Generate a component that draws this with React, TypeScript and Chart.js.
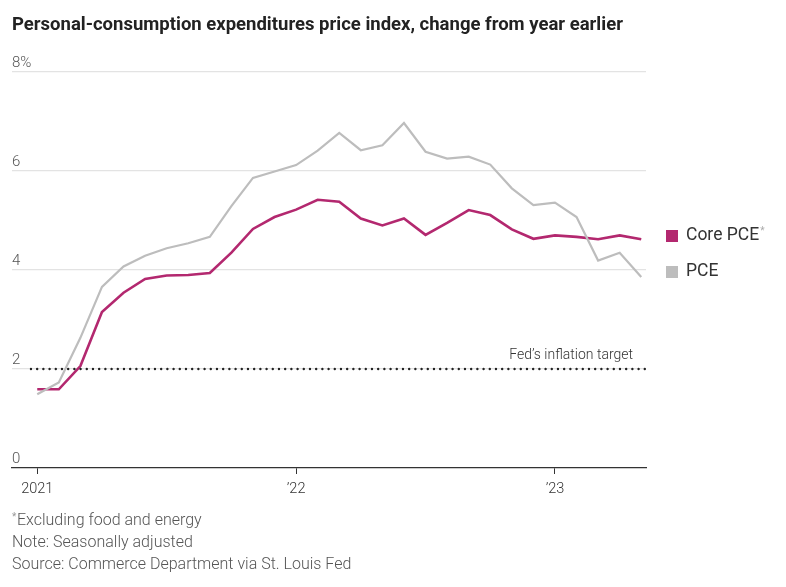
import React, { useEffect, useRef } from "react";
import { Chart, registerables } from "chart.js";

Chart.register(...registerables);

// Monthly, Jan 2021 – May 2023
const months = [
  "Jan 2021", "Feb 2021", "Mar 2021", "Apr 2021", "May 2021", "Jun 2021", "Jul 2021", "Aug 2021", "Sep 2021", "Oct 2021", "Nov 2021", "Dec 2021",
  "Jan 2022", "Feb 2022", "Mar 2022", "Apr 2022", "May 2022", "Jun 2022", "Jul 2022", "Aug 2022", "Sep 2022", "Oct 2022", "Nov 2022", "Dec 2022",
  "Jan 2023", "Feb 2023", "Mar 2023", "Apr 2023", "May 2023",
];
const corePCE = [
  1.59, 1.59, 2.06, 3.15, 3.54, 3.82, 3.89, 3.9, 3.94, 4.35, 4.83, 5.07,
  5.22, 5.42, 5.38, 5.04, 4.9, 5.04, 4.71, 4.95, 5.21, 5.11, 4.82, 4.63,
  4.7, 4.67, 4.62, 4.7, 4.62,
];
const pce = [
  1.49, 1.73, 2.63, 3.66, 4.07, 4.29, 4.44, 4.54, 4.67, 5.29, 5.86, 5.99,
  6.12, 6.41, 6.77, 6.42, 6.52, 6.97, 6.39, 6.25, 6.29, 6.13, 5.65, 5.31,
  5.36, 5.07, 4.19, 4.35, 3.86,
];
const fedTarget = 2;
const yTickValues = [0, 2, 4, 6, 8];
const xTickIndices = [0, 12, 24];
const xTickLabels = ["2021", "\u201922", "\u201923"];

const CORE_COLOR = "#b3286f";
const PCE_COLOR = "#bdbdbd";
const FONT = "Roboto, 'Noto Sans', sans-serif";

const textPlugin = {
  id: "texts",
  afterDraw(chart: any) {
    const ctx = chart.ctx;
    const y = chart.scales.y;
    ctx.save();
    // Title
    ctx.fillStyle = "#222";
    ctx.font = `bold 18.5px ${FONT}`;
    ctx.textBaseline = "middle";
    ctx.textAlign = "left";
    ctx.fillText("Personal-consumption expenditures price index, change from year earlier", 12, 25);

    // Fed target label
    ctx.fillStyle = "#333";
    ctx.font = `300 14px ${FONT}`;
    ctx.textAlign = "right";
    ctx.textBaseline = "alphabetic";
    ctx.fillText("Fed\u2019s inflation target", 633, y.getPixelForValue(fedTarget) - 10);

    // Legend
    ctx.textAlign = "left";
    ctx.textBaseline = "middle";
    ctx.fillStyle = CORE_COLOR;
    ctx.fillRect(666, 230, 12, 12);
    ctx.fillStyle = PCE_COLOR;
    ctx.fillRect(666, 266, 12, 12);
    ctx.fillStyle = "#333";
    ctx.font = `17.5px ${FONT}`;
    ctx.fillText("Core PCE", 686, 236);
    const w = ctx.measureText("Core PCE").width;
    ctx.fillText("PCE", 686, 272);
    ctx.fillStyle = "#aaa";
    ctx.font = `10px ${FONT}`;
    ctx.fillText("*", 686 + w + 1, 231);

    // Footnotes
    ctx.fillStyle = "#999";
    ctx.font = `10px ${FONT}`;
    ctx.fillText("*", 12, 517);
    ctx.fillStyle = "#555";
    ctx.font = `300 16px ${FONT}`;
    ctx.fillText("Excluding food and energy", 17, 521);
    ctx.fillText("Note: Seasonally adjusted", 12, 543);
    ctx.fillText("Source: Commerce Department via St. Louis Fed", 12, 565);
    ctx.restore();
  },
};

export default function App() {
  const ref = useRef<HTMLCanvasElement>(null);
  useEffect(() => {
    document.body.style.margin = "0";
    const chart = new Chart(ref.current!, {
      type: "line",
      data: {
        labels: months,
        datasets: [
          {
            label: "Fed target",
            data: [
              { x: -0.29, y: fedTarget },
              { x: 28.2, y: fedTarget },
            ],
            borderColor: "#222",
            borderWidth: 2.4,
            borderDash: [0, 6.2],
            borderCapStyle: "round",
            pointRadius: 0,
            tension: 0,
          },
          {
            label: "PCE",
            data: pce.map((v, i) => ({ x: i, y: v })),
            borderColor: PCE_COLOR,
            borderWidth: 2.2,
            pointRadius: 0,
            tension: 0,
          },
          {
            label: "Core PCE",
            data: corePCE.map((v, i) => ({ x: i, y: v })),
            borderColor: CORE_COLOR,
            borderWidth: 2.6,
            pointRadius: 0,
            tension: 0,
          },
        ],
      },
      options: {
        animation: false,
        responsive: false,
        maintainAspectRatio: false,
        layout: { padding: { left: 12, right: 140, top: 72, bottom: 89 } },
        plugins: { legend: { display: false }, tooltip: { enabled: false } },
        scales: {
          x: {
            type: "linear",
            min: -1.17,
            max: 28.22,
            afterBuildTicks: (s: any) => {
              s.ticks = xTickIndices.map((v) => ({ value: v }));
            },
            afterFit: (s: any) => {
              s.height = 30;
            },
            ticks: {
              callback: (v: any) => xTickLabels[xTickIndices.indexOf(v)] ?? "",
              color: "#333",
              font: { family: FONT, size: 14.5, weight: "300" as any },
              padding: 7,
              maxRotation: 0,
              autoSkip: false,
            },
            grid: {
              drawOnChartArea: false,
              drawTicks: true,
              tickLength: 6,
              color: "#333",
            },
            border: { display: true, color: "#333", width: 1.3 },
          },
          y: {
            min: 0,
            max: 8,
            afterBuildTicks: (s: any) => {
              s.ticks = yTickValues.map((v) => ({ value: v }));
            },
            afterFit: (s: any) => {
              s.width = 0;
            },
            ticks: {
              mirror: true,
              padding: 0,
              labelOffset: -9,
              color: "#555",
              font: { family: FONT, size: 15, weight: "300" as any },
              callback: (v: any) => (v === 8 ? "8%" : String(v)),
            },
            grid: {
              color: (c: any) => (c.tick && c.tick.value === 0 ? "rgba(0,0,0,0)" : "#e3e3e3"),
              lineWidth: 1.3,
              drawTicks: false,
            },
            border: { display: false },
          },
        },
      },
      plugins: [textPlugin],
    } as any);
    return () => chart.destroy();
  }, []);
  return (
    <div style={{ position: "absolute", left: 0, top: 0, width: 786, height: 587, background: "#fff" }}>
      <canvas ref={ref} width={786} height={587} style={{ display: "block" }} />
    </div>
  );
}
